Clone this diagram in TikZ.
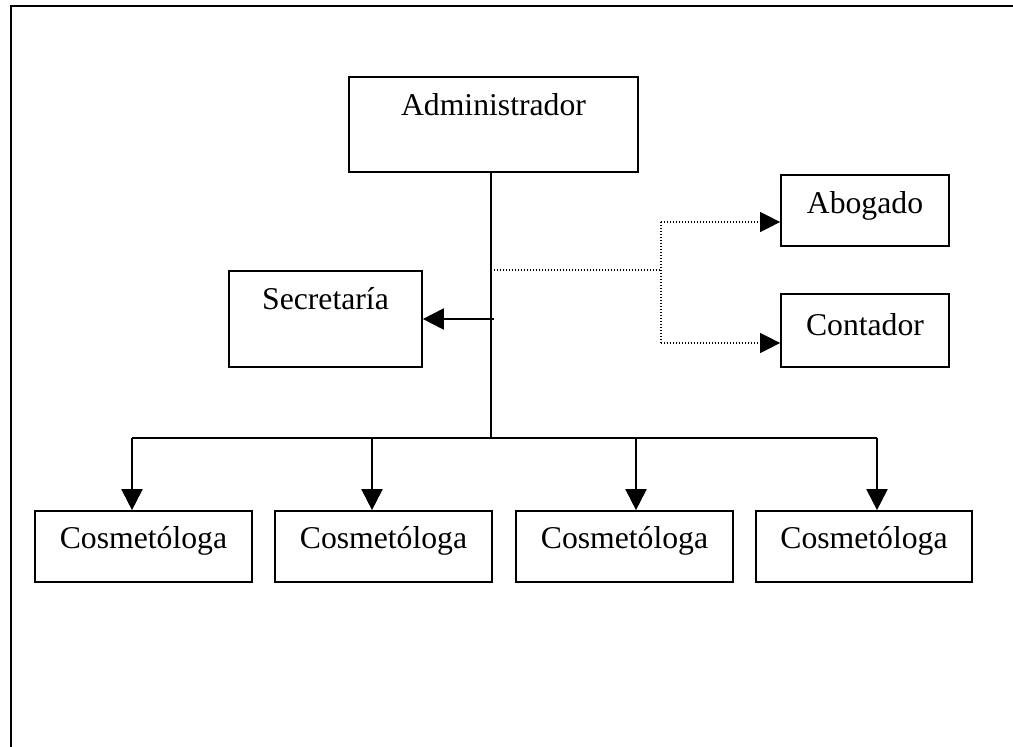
\documentclass[tikz,border=0pt]{standalone}
\usepackage{fontspec}
\setmainfont{Liberation Serif}
\usetikzlibrary{arrows.meta}
\begin{document}
\begin{tikzpicture}[x=1pt,y=-1pt,
  box/.style={draw, line width=1.7pt, inner sep=0pt, font=\fontsize{31.7pt}{38pt}\selectfont, text height=22pt},
  solidline/.style={line width=2pt},
  dotline/.style={line width=1.2pt, dash pattern=on 1.2pt off 1.8pt},
  tipsolid/.style={-{Triangle[length=21pt,width=21pt]}},
  tipdot/.style={-{Triangle[length=20pt,width=20pt]}},
  frameline/.style={line width=2pt}]
\useasboundingbox (0,0) rectangle (1013,747);
% frame
\draw[frameline] (11,747) -- (11,6) -- (1013,6);
% nodes
\node[box, minimum width=289pt, minimum height=95pt, text depth=41pt] (admin) at (493.5,124.5) {Administrador};
\node[box, minimum width=193pt, minimum height=96pt, text depth=42pt] (secr) at (325.5,319) {Secretaría};
\node[box, minimum width=168pt, minimum height=71pt, text depth=17pt] (abog) at (865,210.5) {Abogado};
\node[box, minimum width=168pt, minimum height=73pt, text depth=13pt] (cont) at (865,330.5) {Contador};
\node[box, minimum width=217pt, minimum height=71pt, text depth=19pt] (c1) at (143.5,546.5) {Cosmetóloga};
\node[box, minimum width=217pt, minimum height=71pt, text depth=19pt] (c2) at (383.5,546.5) {Cosmetóloga};
\node[box, minimum width=217pt, minimum height=71pt, text depth=19pt] (c3) at (624.5,546.5) {Cosmetóloga};
\node[box, minimum width=216pt, minimum height=71pt, text depth=19pt] (c4) at (864,546.5) {Cosmetóloga};
% coordinates
\coordinate (trunk) at (491,438);
\coordinate (b1) at (132,438);
\coordinate (b2) at (372,438);
\coordinate (b3) at (636,438);
\coordinate (b4) at (877,438);
\coordinate (s0) at (494,319);
\coordinate (d0) at (491,270);
\coordinate (dj) at (661,270);
\coordinate (dA) at (661,222);
\coordinate (dC) at (661,343);
% trunk and bus
\draw[solidline] (admin.south -| trunk) -- (trunk);
\draw[solidline] (b1) -- (b4);
\draw[solidline,tipsolid] (b1) -- (b1 |- c1.north);
\draw[solidline,tipsolid] (b2) -- (b2 |- c2.north);
\draw[solidline,tipsolid] (b3) -- (b3 |- c3.north);
\draw[solidline,tipsolid] (b4) -- (b4 |- c4.north);
% secretaria
\draw[solidline,tipsolid] (s0) -- (s0 -| secr.east);
% dotted staff lines
\draw[dotline] (d0) -- (dj);
\draw[dotline] (dA) -- (dC);
\draw[dotline,tipdot] (dA) -- (dA -| abog.west);
\draw[dotline,tipdot] (dC) -- (dC -| cont.west);
\end{tikzpicture}
\end{document}
